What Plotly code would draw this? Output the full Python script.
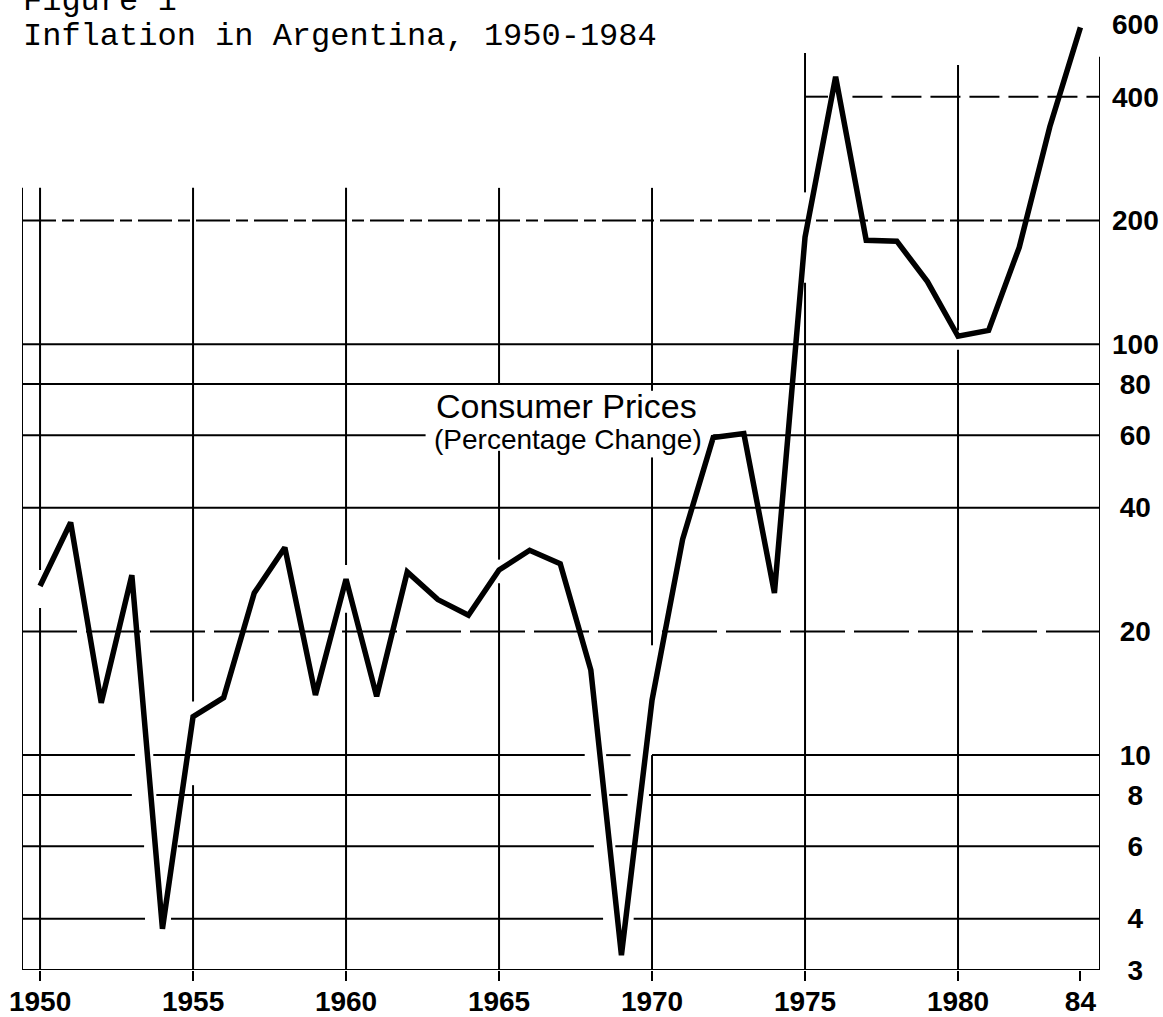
import math
import plotly.graph_objects as go

# ---------------- data ----------------
years = list(range(1950, 1985))
cpi_change = [25.8, 36.8, 13.4, 27.4, 3.78, 12.4, 13.8, 24.8, 32.0, 14.0,
              26.8, 13.9, 27.9, 23.9, 21.9, 28.2, 31.5, 29.2, 16.1, 3.26,
              13.6, 33.5, 59.3, 60.6, 24.8, 182, 447, 179, 178, 142,
              104.5, 108, 172, 338, 590]

x_tick_vals = [1950, 1955, 1960, 1965, 1970, 1975, 1980, 1984]
x_tick_text = ["1950", "1955", "1960", "1965", "1970", "1975", "1980", "84"]
y_tick_vals = [3, 4, 6, 8, 10, 20, 40, 60, 80, 100, 200, 400, 600]
y_tick_text = ["3", "4", "6", "8", "10", "20", "40", "60", "80", "100", "200", "400", "600"]

title_line1 = "Figure 1"
title_line2 = "Inflation in Argentina, 1950-1984"
series_label = "Consumer Prices"
series_sub = "(Percentage Change)"

# ---------------- frame / grid geometry (style) ----------------
X_LEFT, X_RIGHT = 1949.41, 1984.64
Y_BOTTOM, Y_TOP_LOG = 3, 2.813

# horizontal grid: (value, x_from, x_to, dash, gaps in years)
h_lines = [
    (3, X_LEFT, X_RIGHT, "solid", []),
    (4, X_LEFT, X_RIGHT, "solid", [(1953.43, 1954.28), (1968.4, 1969.4)]),
    (6, X_LEFT, X_RIGHT, "solid", [(1953.4, 1954.5), (1968.1, 1968.8)]),
    (8, X_LEFT, X_RIGHT, "solid", [(1953.0, 1953.8), (1968.0, 1968.6), (1969.2, 1969.9)]),
    (10, X_LEFT, X_RIGHT, "solid", [(1953.1, 1953.7), (1967.8, 1968.5), (1969.3, 1970.0)]),
    (20, X_LEFT, X_RIGHT, "55px,9px", []),
    (40, X_LEFT, X_RIGHT, "solid", []),
    (60, X_LEFT, X_RIGHT, "solid", [(1962.6, 1972.0)]),
    (80, X_LEFT, X_RIGHT, "solid", []),
    (100, X_LEFT, X_RIGHT, "solid", []),
    (200, X_LEFT, X_RIGHT, "34px,6px,12px,6px", []),
    (400, 1975, X_RIGHT, "30px,9px", [(1975.75, 1976.55)]),
]
# vertical grid: (year, v_from, v_to, gaps in values)
v_lines = [
    (X_LEFT, 3, 240, []),
    (1950, 3, 240, [(22.8, 28.2)]),
    (1955, 3, 240, [(8.45, 13.5)]),
    (1960, 3, 240, [(22.2, 29.0)]),
    (1965, 3, 240, [(26.2, 29.9), (55, 80)]),
    (1970, 3, 240, [(10, 18.5), (53, 77)]),
    (1975, 3, 511, [(141, 234)]),
    (1980, 3, 478, [(96.9, 108)]),
    (X_RIGHT, 3, 500, []),
]


def split_segments(a, b, gaps):
    pts = [a]
    for g0, g1 in gaps:
        pts += [g0, g1]
    pts.append(b)
    return [(pts[i], pts[i + 1]) for i in range(0, len(pts), 2)]


fig = go.Figure()

for val, x0, x1, dash, gaps in h_lines:
    xs, ys = [], []
    for s0, s1 in split_segments(x0, x1, gaps):
        xs += [s0, s1, None]
        ys += [val, val, None]
    fig.add_trace(go.Scatter(x=xs, y=ys, mode="lines", hoverinfo="skip",
                             line=dict(color="black", width=2, dash=dash),
                             showlegend=False))

for yr, v0, v1, gaps in v_lines:
    xs, ys = [], []
    for s0, s1 in split_segments(v0, v1, gaps):
        xs += [yr, yr, None]
        ys += [s0, s1, None]
    fig.add_trace(go.Scatter(x=xs, y=ys, mode="lines", hoverinfo="skip",
                             line=dict(color="black", width=2),
                             showlegend=False))

fig.add_trace(go.Scatter(x=years, y=cpi_change, mode="lines",
                         line=dict(color="black", width=5.5),
                         name=series_label, showlegend=False))

tick_font = dict(family="Liberation Sans, Arial", size=28, color="black", weight="bold")

padded_y = ["\u00a0" * (3 - len(t)) + t for t in y_tick_text]

fig.update_layout(
    width=1163, height=1017,
    margin=dict(l=22, r=63, t=10, b=47, autoexpand=False),
    paper_bgcolor="white", plot_bgcolor="white",
    showlegend=False,
    xaxis=dict(range=[X_LEFT, X_RIGHT], showgrid=False, zeroline=False,
               showline=False, tickmode="array", tickvals=x_tick_vals,
               ticktext=x_tick_text, ticks="outside", ticklen=10, tickwidth=2,
               tickcolor="black", tickfont=tick_font, ticklabelstandoff=-4,
               automargin=False),
    yaxis=dict(type="log", range=[math.log10(Y_BOTTOM), Y_TOP_LOG], side="right",
               showgrid=False, zeroline=False, showline=False, tickmode="array",
               tickvals=y_tick_vals, ticktext=padded_y, ticks="",
               tickfont=tick_font, ticklabelstandoff=11, automargin=False),
    annotations=[
        dict(text=title_line1, xref="paper", yref="paper", x=-0.001, y=1.0298,
             xanchor="left", yanchor="top", showarrow=False,
             font=dict(family="Liberation Mono, DejaVu Sans Mono, monospace",
                       size=32, color="black")),
        dict(text=title_line2, xref="paper", yref="paper", x=-0.001, y=0.99333,
             xanchor="left", yanchor="top", showarrow=False,
             font=dict(family="Liberation Mono, DejaVu Sans Mono, monospace",
                       size=32, color="black")),
        dict(text=series_label, xref="x", yref="y", x=1967.19,
             y=math.log10(70.7), xanchor="center", yanchor="middle",
             showarrow=False,
             font=dict(family="Liberation Sans, Arial", size=34, color="black")),
        dict(text=series_sub, xref="x", yref="y", x=1967.24,
             y=1.7668, xanchor="center", yanchor="middle", showarrow=False,
             font=dict(family="Liberation Sans, Arial", size=28, color="black")),
    ],
)

fig.write_html("out.html", config={"displayModeBar": False},
               post_script="document.body.style.margin='0';"
                           "document.body.style.overflow='hidden';")
